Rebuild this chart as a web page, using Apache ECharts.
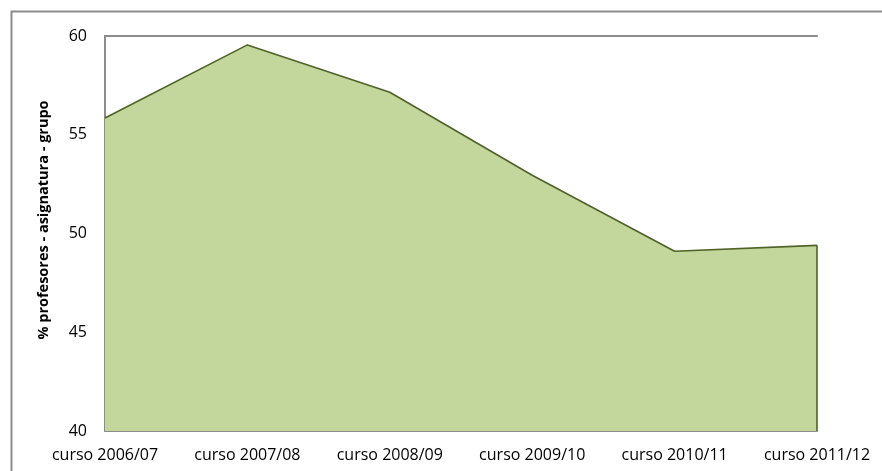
<!DOCTYPE html>
<html>
<head>
<meta charset="utf-8">
<script src="https://cdn.jsdelivr.net/npm/echarts@6/dist/echarts.min.js"></script>
<style>
  html, body { margin: 0; padding: 0; background: #fff; }
  #chart { width: 882px; height: 471px; }
</style>
</head>
<body>
<div id="chart"></div>
<script>
const cursos = ['curso 2006/07', 'curso 2007/08', 'curso 2008/09', 'curso 2009/10', 'curso 2010/11', 'curso 2011/12']
const porcentajes = [55.85, 59.55, 57.15, 52.95, 49.1, 49.4]
const yTicks = { min: 40, max: 60, interval: 5 }
const yTitulo = '% profesores - asignatura - grupo'

const chart = echarts.init(document.getElementById('chart'))
const font = '"Open Sans", sans-serif'
const lastCurso = cursos[cursos.length - 1]
const lastValor = porcentajes[porcentajes.length - 1]

chart.setOption({
  backgroundColor: '#fff',
  animation: false,
  graphic: [{
    type: 'rect',
    shape: { x: 11.5, y: 11.5, width: 900, height: 500 },
    style: { fill: 'none', stroke: '#8c8c8c', lineWidth: 2 },
    silent: true
  }, {
    // axis title sits a bit above the plot centre, like the original
    type: 'text',
    x: 44,
    y: 220,
    rotation: Math.PI / 2,
    style: {
      text: yTitulo,
      fill: '#000',
      font: 'bold 14.5px "Open Sans", sans-serif',
      align: 'center',
      verticalAlign: 'middle'
    },
    silent: true
  }],
  grid: { left: 105, right: 65, top: 36, bottom: 40 },
  xAxis: [{
    type: 'category',
    data: cursos,
    boundaryGap: false,
    axisLine: { lineStyle: { color: '#8c8c8c', width: 2 } },
    axisTick: { show: false },
    axisLabel: { color: '#000', fontFamily: font, fontSize: 16, margin: 16 }
  }, {
    // top border line of the plot (the 60 gridline)
    type: 'category',
    data: cursos,
    position: 'top',
    boundaryGap: false,
    axisLine: { lineStyle: { color: '#8c8c8c', width: 2 } },
    axisTick: { show: false },
    axisLabel: { show: false }
  }],
  yAxis: {
    type: 'value',
    min: yTicks.min,
    max: yTicks.max,
    interval: yTicks.interval,
    axisLine: { show: true, lineStyle: { color: '#8c8c8c', width: 2 } },
    axisTick: { show: false },
    splitLine: { show: false },
    axisLabel: { color: '#000', fontFamily: font, fontSize: 16, margin: 18 }
  },
  series: [{
    type: 'line',
    data: porcentajes,
    symbol: 'none',
    lineStyle: { color: '#4f6228', width: 1.6 },
    areaStyle: { color: '#c3d69b', opacity: 1, origin: 'start' },
    markLine: {
      silent: true,
      symbol: 'none',
      label: { show: false },
      lineStyle: { color: '#4f6228', width: 1.6, type: 'solid' },
      data: [[{ coord: [lastCurso, yTicks.min] }, { coord: [lastCurso, lastValor] }]]
    },
    z: 3
  }]
})
</script>
</body>
</html>
